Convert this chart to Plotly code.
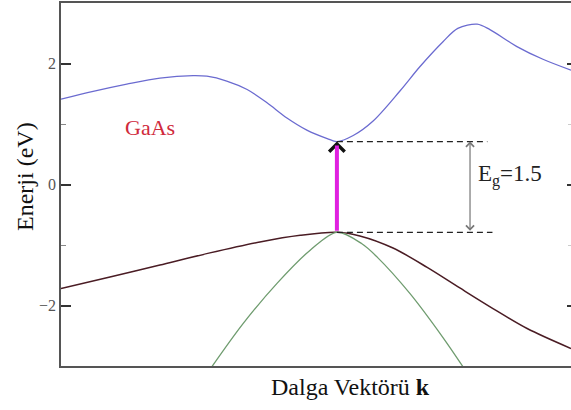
import plotly.graph_objects as go

# Band energies (eV) along the wave vector, k normalised to [0, 1]
k_cb = [0.0, 0.063, 0.129, 0.194, 0.259, 0.286, 0.325, 0.365, 0.404, 0.443,
        0.482, 0.522, 0.541, 0.573, 0.612, 0.665, 0.704, 0.749, 0.778,
        0.816, 0.841, 0.894, 0.945, 1.0]
e_cb = [1.41, 1.54, 1.66, 1.76, 1.80, 1.79, 1.71, 1.57, 1.35, 1.10,
        0.90, 0.76, 0.71, 0.81, 1.05, 1.55, 1.95, 2.36, 2.58,
        2.65, 2.56, 2.28, 2.07, 1.89]

k_hh = [0.0, 0.096, 0.194, 0.292, 0.390, 0.469, 0.541, 0.586, 0.651, 0.718,
        0.782, 0.847, 0.914, 1.0]
e_hh = [-1.72, -1.53, -1.33, -1.13, -0.95, -0.84, -0.79, -0.85, -1.05, -1.37,
        -1.71, -2.05, -2.38, -2.71]

k_lh = [0.296, 0.357, 0.424, 0.488, 0.541, 0.590, 0.620, 0.684, 0.749, 0.788]
e_lh = [-3.01, -2.30, -1.63, -1.09, -0.79, -0.98, -1.20, -1.80, -2.53, -3.01]

k_gamma = 0.541
e_vb_max = -0.79
e_gap = 1.5
e_cb_min = e_vb_max + e_gap

y_ticks = [-2, 0, 2]

SERIF = "Liberation Serif"

fig = go.Figure()

fig.add_trace(go.Scatter(x=k_cb, y=e_cb, mode="lines",
                         line=dict(color="#6b6bd0", width=1.3, shape="spline", smoothing=0.9),
                         showlegend=False))
fig.add_trace(go.Scatter(x=k_hh, y=e_hh, mode="lines",
                         line=dict(color="#4a1c24", width=1.5, shape="spline", smoothing=0.9),
                         showlegend=False))
fig.add_trace(go.Scatter(x=k_lh, y=e_lh, mode="lines",
                         line=dict(color="#6f9c6f", width=1.3, shape="spline", smoothing=0.9),
                         showlegend=False))

# Dashed guides at the band edges
fig.add_trace(go.Scatter(x=[k_gamma, 0.836], y=[e_cb_min, e_cb_min], mode="lines",
                         line=dict(color="#222", width=1.2, dash="6px,4px"), showlegend=False))
fig.add_trace(go.Scatter(x=[k_gamma, 0.846], y=[e_vb_max, e_vb_max], mode="lines",
                         line=dict(color="#222", width=1.2, dash="6px,4px"), showlegend=False))

annotations = [
    # black arrow head of the direct transition
    dict(x=k_gamma, y=e_cb_min, xref="x", yref="y", ax=0, ay=14, showarrow=True,
         arrowhead=4, arrowsize=1.5, arrowwidth=2, arrowcolor="#111", text=""),
    # magenta shaft of the direct transition at Gamma
    dict(x=k_gamma, y=e_cb_min, xref="x", yref="y", ax=k_gamma, ay=e_vb_max,
         axref="x", ayref="y", showarrow=True, arrowhead=0, arrowwidth=4,
         arrowcolor="#e020e0", standoff=4, text=""),
    # gap dimension arrow
    dict(x=0.802, y=e_cb_min, xref="x", yref="y", ax=0.802, ay=e_vb_max,
         axref="x", ayref="y", showarrow=True, arrowhead=4, arrowside="end+start",
         arrowsize=1.3, arrowwidth=1.2, arrowcolor="#777", text=""),
    dict(x=0.813, y=0.15, xref="x", yref="y", xanchor="left", yanchor="middle",
         text="E<sub>g</sub>=1.5", showarrow=False,
         font=dict(family=SERIF, size=23, color="#222")),
    dict(x=0.175, y=0.94, xref="x", yref="y", xanchor="center", yanchor="middle",
         text="GaAs", showarrow=False,
         font=dict(family=SERIF, size=22, color="#d02a3c")),
    # axis titles
    dict(x=0.567, y=-0.057, xref="paper", yref="paper", xanchor="center", yanchor="middle",
         text="Dalga Vektörü <b>k</b>", showarrow=False,
         font=dict(family=SERIF, size=24, color="#111")),
    dict(x=-0.071, y=0.523, xref="paper", yref="paper", xanchor="center", yanchor="middle",
         text="Enerji (eV)", textangle=-90, showarrow=False,
         font=dict(family=SERIF, size=24, color="#111")),
]

fig.update_layout(
    width=571, height=410,
    margin=dict(l=61, r=0, t=3, b=44),
    paper_bgcolor="white", plot_bgcolor="white",
    font=dict(family=SERIF),
    annotations=annotations,
    xaxis=dict(range=[0, 1], showgrid=False, zeroline=False, showticklabels=False,
               ticks="", showline=True, mirror=True, linecolor="#555", linewidth=1.5),
    yaxis=dict(range=[-3, 3], tickvals=y_ticks, showgrid=False, zeroline=False,
               ticks="inside", ticklen=10, tickwidth=1.5, tickcolor="#333",
               showline=True, linecolor="#555", linewidth=1.5,
               minor=dict(ticks="inside", ticklen=5, tickwidth=1, tickcolor="#888", dtick=1),
               tickfont=dict(family=SERIF, size=16, color="#555")),
    yaxis2=dict(range=[-3, 3], tickvals=y_ticks, overlaying="y", side="right",
                showgrid=False, zeroline=False, showline=False, showticklabels=False,
                ticks="inside", ticklen=4, tickwidth=1.5, tickcolor="#333",
                minor=dict(ticks="inside", ticklen=3, tickwidth=1, tickcolor="#ccc", dtick=1)),
)

# invisible trace to activate the right-hand tick axis
fig.add_trace(go.Scatter(x=[None], y=[None], yaxis="y2", showlegend=False))

fig.write_html("out.html")
